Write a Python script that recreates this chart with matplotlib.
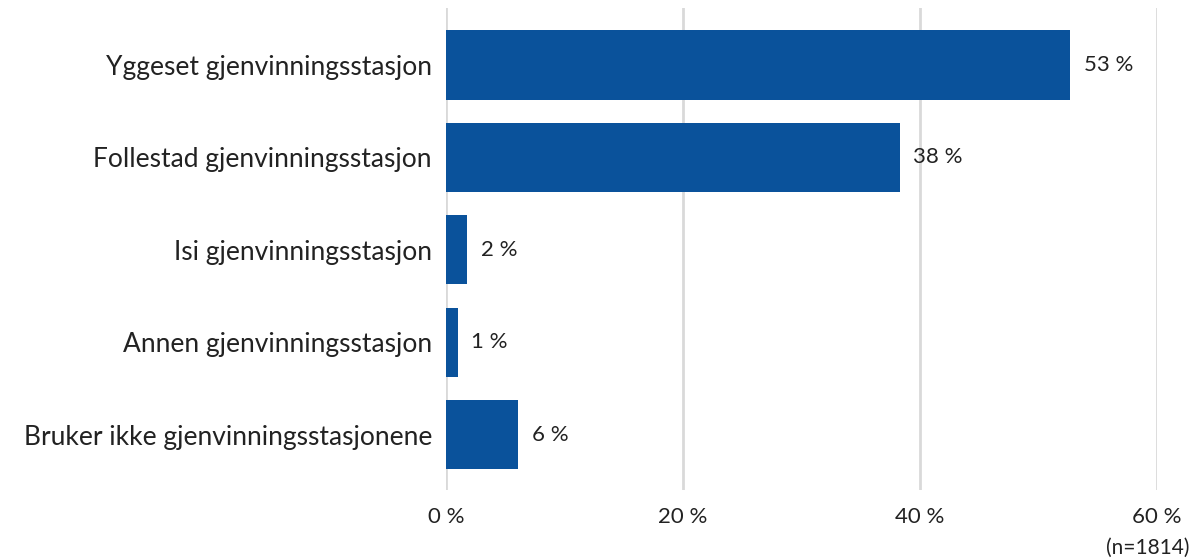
import matplotlib
matplotlib.use('Agg')
import matplotlib.pyplot as plt
import numpy as np

plt.rcParams['font.family'] = ['Lato', 'DejaVu Sans']

# data
categories = ['Yggeset gjenvinningsstasjon', 'Follestad gjenvinningsstasjon',
              'Isi gjenvinningsstasjon', 'Annen gjenvinningsstasjon',
              'Bruker ikke gjenvinningsstasjonene']
values = [52.7, 38.3, 1.8, 1.0, 6.1]
labels = ['53 %', '38 %', '2 %', '1 %', '6 %']
ticks = [0, 20, 40, 60]
tick_labels = ['0 %', '20 %', '40 %', '60 %']

fig = plt.figure(figsize=(11.92, 5.6), dpi=100)
ax = fig.add_axes([0.374, 0.125, 0.5966, 0.861])

y = np.arange(len(categories))
ax.barh(y, values, height=0.75, color='#0A529B', zorder=3)

for yi, v, lab in zip(y, values, labels):
    ax.text(v + 1.15, yi, lab, va='center', ha='left', fontsize=16, color='#222222')

ax.set_xlim(0, 60)
ax.set_ylim(4.6, -0.62)
ax.set_yticks(y)
ax.set_yticklabels(categories, fontsize=19, color='#222222')
ax.set_xticks(ticks)
ax.set_xticklabels(tick_labels, fontsize=16, color='#222222')
ax.tick_params(axis='both', length=0)
ax.tick_params(axis='x', pad=12)
ax.tick_params(axis='y', pad=10)

ax.grid(axis='x', color='#d9d9d9', linewidth=2, zorder=0)
for s in ax.spines.values():
    s.set_visible(False)

fig.text(0.998, 0.003, '(n=1814)', ha='right', va='bottom', fontsize=15, color='#222222')

fig.savefig('out.png', dpi=100)
